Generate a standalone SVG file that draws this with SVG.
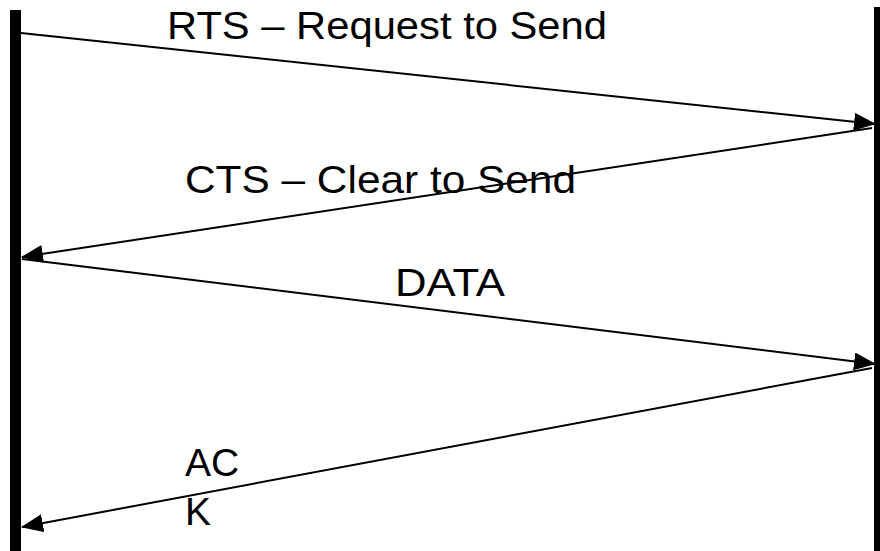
<svg xmlns="http://www.w3.org/2000/svg" width="880" height="551" viewBox="0 0 880 551">
<style>
.lbl{font-family:"Liberation Sans",Arial,sans-serif;font-size:39px;fill:#000}
.msg{stroke:#000;stroke-width:2;fill:none;marker-end:url(#ah)}
</style>
<defs>
<marker id="ah" markerUnits="userSpaceOnUse" markerWidth="22" markerHeight="18" viewBox="0 0 22 18" refX="21" refY="9" orient="auto">
<path d="M0,0 L22,9 L0,18 z" fill="#000"/>
</marker>
</defs>
<rect width="880" height="551" fill="#fff"/>
<g id="sender"><rect x="10" y="10" width="11" height="541" fill="#000"/></g>
<g id="receiver"><rect x="874" y="7" width="6" height="544" fill="#000"/></g>
<g id="connectors">
<line class="msg" x1="21" y1="33" x2="875" y2="124"/>
<line class="msg" x1="872" y1="128" x2="22" y2="257"/>
<line class="msg" x1="22" y1="259" x2="875" y2="364"/>
<line class="msg" x1="872" y1="368" x2="22" y2="527"/>
</g>
<g id="labels">
<text class="lbl" x="167" y="39" textLength="440" lengthAdjust="spacingAndGlyphs">RTS – Request to Send</text>
<text class="lbl" x="185" y="193" textLength="391" lengthAdjust="spacingAndGlyphs">CTS – Clear to Send</text>
<text class="lbl" x="395" y="296" textLength="110" lengthAdjust="spacingAndGlyphs">DATA</text>
<text class="lbl" x="185" y="476">AC</text>
<text class="lbl" x="185" y="525">K</text>
</g>
</svg>
